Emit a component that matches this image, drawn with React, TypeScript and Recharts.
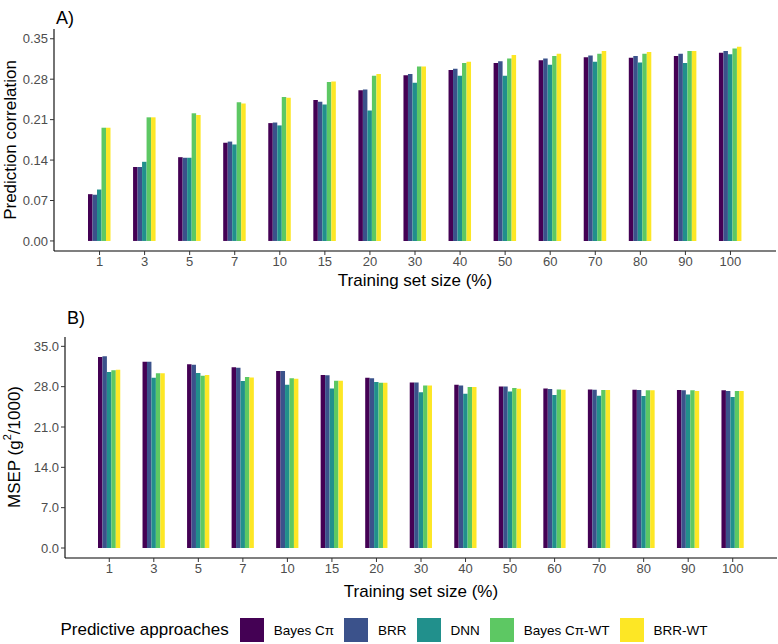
import { BarChart, Bar, XAxis, YAxis } from 'recharts';

const sizes = ['1', '3', '5', '7', '10', '15', '20', '30', '40', '50', '60', '70', '80', '90', '100'];

// A) prediction correlation
const corBayesCpi = [0.081, 0.128, 0.145, 0.170, 0.204, 0.244, 0.261, 0.287, 0.296, 0.308, 0.313, 0.318, 0.317, 0.320, 0.326];
const corBRR = [0.080, 0.128, 0.144, 0.172, 0.205, 0.241, 0.262, 0.289, 0.298, 0.311, 0.316, 0.321, 0.320, 0.324, 0.329];
const corDNN = [0.089, 0.137, 0.144, 0.167, 0.200, 0.236, 0.226, 0.274, 0.286, 0.286, 0.305, 0.310, 0.309, 0.308, 0.323];
const corBayesCpiWT = [0.196, 0.214, 0.221, 0.240, 0.249, 0.275, 0.286, 0.302, 0.308, 0.316, 0.320, 0.324, 0.324, 0.329, 0.333];
const corBRRWT = [0.196, 0.214, 0.218, 0.238, 0.248, 0.276, 0.289, 0.302, 0.310, 0.322, 0.324, 0.329, 0.327, 0.329, 0.336];

// B) MSEP (g^2/1000)
const msepBayesCpi = [33.14, 32.33, 31.87, 31.35, 30.71, 30.02, 29.55, 28.74, 28.34, 28.05, 27.70, 27.53, 27.47, 27.41, 27.36];
const msepBRR = [33.26, 32.33, 31.81, 31.29, 30.71, 29.96, 29.44, 28.74, 28.22, 28.05, 27.59, 27.47, 27.41, 27.36, 27.24];
const msepDNN = [30.54, 29.55, 30.36, 28.98, 28.34, 27.70, 28.80, 27.01, 26.78, 27.18, 26.55, 26.43, 26.37, 26.66, 26.20];
const msepBayesCpiWT = [30.83, 30.31, 29.90, 29.67, 29.44, 29.03, 28.69, 28.22, 27.93, 27.76, 27.53, 27.41, 27.36, 27.36, 27.24];
const msepBRRWT = [30.94, 30.31, 30.02, 29.61, 29.38, 29.03, 28.69, 28.22, 27.93, 27.65, 27.47, 27.41, 27.36, 27.24, 27.24];

const corTicks = [0, 0.07, 0.14, 0.21, 0.28, 0.35];
const msepTicks = [0, 7, 14, 21, 28, 35];

const series = [
  { key: 'bcpi', name: 'Bayes Cπ', color: '#440154' },
  { key: 'brr', name: 'BRR', color: '#3B528B' },
  { key: 'dnn', name: 'DNN', color: '#21908C' },
  { key: 'bcpiwt', name: 'Bayes Cπ-WT', color: '#5DC863' },
  { key: 'brrwt', name: 'BRR-WT', color: '#FDE725' },
];

const corData = sizes.map((s, i) => ({
  size: s,
  bcpi: corBayesCpi[i],
  brr: corBRR[i],
  dnn: corDNN[i],
  bcpiwt: corBayesCpiWT[i],
  brrwt: corBRRWT[i],
}));

const msepData = sizes.map((s, i) => ({
  size: s,
  bcpi: msepBayesCpi[i],
  brr: msepBRR[i],
  dnn: msepDNN[i],
  bcpiwt: msepBayesCpiWT[i],
  brrwt: msepBRRWT[i],
}));

const FONT = '"Liberation Sans", Arial, sans-serif';
const tickStyle = { fill: '#4d4d4d', fontSize: 13, fontFamily: FONT };

// x axis title, centred on the plot width
function xTitle(cy: number) {
  return (props: any) => {
    const vb = props.viewBox || {};
    const cx = (vb.x ?? 0) + (vb.width ?? 0) / 2;
    return (
      <text x={cx} y={cy} textAnchor="middle" dominantBaseline="central" fontSize={17} fontFamily={FONT} fill="#000">
        Training set size (%)
      </text>
    );
  };
}

function yTitle(x: number, cy: number, kind: 'cor' | 'msep') {
  return () => (
    <text
      x={x}
      y={cy}
      transform={`rotate(-90 ${x} ${cy})`}
      textAnchor="middle"
      dominantBaseline="central"
      fontSize={17}
      fontFamily={FONT}
      fill="#000"
    >
      {kind === 'cor' ? (
        'Prediction correlation'
      ) : (
        <>
          MSEP (g<tspan dy={-7} fontSize={11}>2</tspan>
          <tspan dy={7}>/1000)</tspan>
        </>
      )}
    </text>
  );
}

export default function App() {
  return (
    <div
      style={{
        position: 'absolute',
        left: 0,
        top: 0,
        width: 778,
        height: 644,
        background: '#fff',
        fontFamily: FONT,
        overflow: 'hidden',
      }}
    >
      <div style={{ position: 'absolute', left: 56, top: 8, fontSize: 18, lineHeight: '20px' }}>A)</div>
      <div style={{ position: 'absolute', left: 0, top: 0 }}>
        <BarChart
          width={778}
          height={292}
          data={corData}
          margin={{ top: 29, right: 2, left: 0, bottom: 0 }}
          barGap={0}
          barSize={4.5}
        >
          <XAxis
            dataKey="size"
            height={41}
            padding={{ left: 23, right: 23 }}
            tickSize={4}
            tick={tickStyle}
            axisLine={{ stroke: '#000', strokeWidth: 1.1 }}
            tickLine={{ stroke: '#333' }}
            interval={0}
            label={{ content: xTitle(280) }}
          />
          <YAxis
            width={54}
            domain={[-0.0174, 0.3669]}
            ticks={corTicks}
            tickFormatter={(v: number) => v.toFixed(2)}
            tickSize={4}
            tick={tickStyle}
            axisLine={{ stroke: '#000', strokeWidth: 1.1 }}
            tickLine={{ stroke: '#333' }}
            label={{ content: yTitle(10, 140, 'cor') }}
          />
          {series.map((s) => (
            <Bar key={s.key} dataKey={s.key} name={s.name} fill={s.color} isAnimationActive={false} />
          ))}
        </BarChart>
      </div>

      <div style={{ position: 'absolute', left: 67, top: 308, fontSize: 18, lineHeight: '20px' }}>B)</div>
      <div style={{ position: 'absolute', left: 0, top: 300 }}>
        <BarChart
          width={778}
          height={300}
          data={msepData}
          margin={{ top: 37, right: 1, left: 0, bottom: 0 }}
          barGap={0}
          barSize={4.45}
        >
          <XAxis
            dataKey="size"
            height={42}
            padding={{ left: 22, right: 22 }}
            tickSize={4}
            tick={tickStyle}
            axisLine={{ stroke: '#000', strokeWidth: 1.1 }}
            tickLine={{ stroke: '#333' }}
            interval={0}
            label={{ content: xTitle(291) }}
          />
          <YAxis
            width={65}
            domain={[-1.735, 36.62]}
            ticks={msepTicks}
            tickFormatter={(v: number) => v.toFixed(1)}
            tickSize={4}
            tick={tickStyle}
            axisLine={{ stroke: '#000', strokeWidth: 1.1 }}
            tickLine={{ stroke: '#333' }}
            label={{ content: yTitle(14, 147, 'msep') }}
          />
          {series.map((s) => (
            <Bar key={s.key} dataKey={s.key} name={s.name} fill={s.color} isAnimationActive={false} />
          ))}
        </BarChart>
      </div>

      {/* legend */}
      <div
        style={{
          position: 'absolute',
          left: 0,
          top: 618,
          width: 778,
          height: 24,
          display: 'flex',
          alignItems: 'center',
          justifyContent: 'center',
        }}
      >
        <span style={{ fontSize: 17, marginRight: 11 }}>Predictive approaches</span>
        {series.map((s) => (
          <span key={s.key} style={{ display: 'flex', alignItems: 'center', marginRight: 10 }}>
            <span style={{ display: 'inline-block', width: 24, height: 24, background: s.color }} />
            <span style={{ fontSize: 13.5, marginLeft: 10 }}>{s.name}</span>
          </span>
        ))}
      </div>
    </div>
  );
}
